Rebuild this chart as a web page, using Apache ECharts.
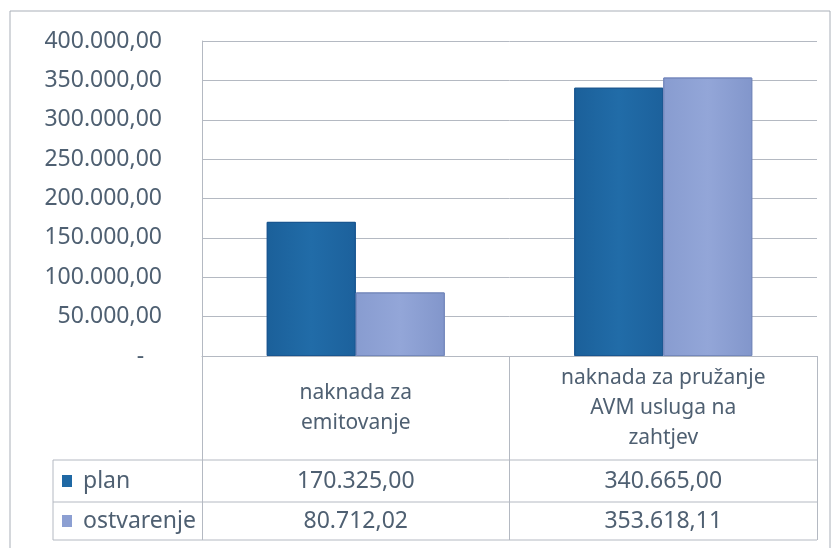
<!DOCTYPE html>
<html>
<head>
<meta charset="utf-8">
<script src="https://cdn.jsdelivr.net/npm/echarts@6/dist/echarts.min.js"></script>
<style>
  html, body { margin: 0; padding: 0; background: #fff; }
  #main { width: 832px; height: 548px; }
</style>
</head>
<body>
<div id="main"></div>
<script>
// podaci
var categories = ['naknada za\nemitovanje', 'naknada za pružanje\nAVM usluga na\nzahtjev'];
var seriesNames = ['plan', 'ostvarenje'];
var planValues = [170325.00, 340665.00];
var ostvarenjeValues = [80712.02, 353618.11];
var yTicks = [0, 50000, 100000, 150000, 200000, 250000, 300000, 350000, 400000];

var colors = ['#1f68a4', '#8c9fd2'];
var textColor = '#4f6072';
var lineColor = '#b4b9c2';

// 1234.5 -> "1.234,50"
function fmt(v) {
    if (v === 0) return '-   ';
    var parts = v.toFixed(2).split('.');
    var intPart = parts[0].replace(/\B(?=(\d{3})+(?!\d))/g, '.');
    return intPart + ',' + parts[1];
}

var chart = echarts.init(document.getElementById('main'));

var gridLeft = 202, gridRight = 15, gridTop = 41, gridBottom = 192;
var tableLeft = 53;

var option = {
    animation: false,
    textStyle: { fontFamily: 'Noto Sans' },
    grid: { left: gridLeft, right: gridRight, top: gridTop, bottom: gridBottom, containLabel: false },
    xAxis: {
        type: 'category',
        data: categories,
        axisLine: { show: true, lineStyle: { color: lineColor, width: 1 } },
        axisTick: { show: true, interval: 0, length: 184, lineStyle: { color: lineColor } },
        axisLabel: {
            interval: 0,
            margin: 52,
            verticalAlign: 'middle',
            lineHeight: 30,
            fontSize: 21,
            color: textColor,
            fontFamily: 'Noto Sans'
        }
    },
    yAxis: {
        type: 'value',
        min: yTicks[0],
        max: yTicks[yTicks.length - 1],
        interval: 50000,
        axisLine: { show: true, lineStyle: { color: lineColor } },
        axisTick: { show: false },
        splitLine: { lineStyle: { color: lineColor, width: 1 } },
        axisLabel: {
            margin: 40,
            fontSize: 23,
            color: textColor,
            fontFamily: 'Noto Sans',
            formatter: fmt
        }
    },
    series: [
        {
            name: seriesNames[0],
            type: 'bar',
            data: planValues,
            barWidth: 89,
            barGap: '0%',
            itemStyle: {
                color: new echarts.graphic.LinearGradient(0, 0, 1, 0, [
                    { offset: 0, color: '#1b609a' },
                    { offset: 0.5, color: '#216ca8' },
                    { offset: 1, color: '#1c619c' }
                ]),
                borderColor: '#195690',
                borderWidth: 1
            }
        },
        {
            name: seriesNames[1],
            type: 'bar',
            data: ostvarenjeValues,
            barWidth: 89,
            itemStyle: {
                color: new echarts.graphic.LinearGradient(0, 0, 1, 0, [
                    { offset: 0, color: '#889cd0' },
                    { offset: 0.5, color: '#93a6d8' },
                    { offset: 1, color: '#8296cb' }
                ]),
                borderColor: '#7488bc',
                borderWidth: 1
            }
        }
    ]
};
chart.setOption(option);

// tablica s podacima ispod grafikona
function drawTable() {
    var plotRight = 832 - gridRight;
    var axisY = 548 - gridBottom;
    var rowTops = [axisY + 104, axisY + 146, axisY + 184];
    var rows = [planValues, ostvarenjeValues];
    var els = [];

    // okvir
    els.push({ type: 'rect', shape: { x: 10, y: 11, width: 820, height: 545 },
        style: { fill: null, stroke: '#a9afb8', lineWidth: 1 }, silent: true });

    rowTops.forEach(function (y) {
        els.push({ type: 'line', shape: { x1: tableLeft, y1: y, x2: plotRight, y2: y },
            style: { stroke: lineColor, lineWidth: 1 }, silent: true });
    });
    els.push({ type: 'line', shape: { x1: tableLeft, y1: rowTops[0], x2: tableLeft, y2: rowTops[2] },
        style: { stroke: lineColor, lineWidth: 1 }, silent: true });

    rows.forEach(function (vals, r) {
        var cy = (rowTops[r] + rowTops[r + 1]) / 2;
        els.push({ type: 'rect', shape: { x: tableLeft + 9, y: cy - 6, width: 10, height: 12 },
            style: { fill: colors[r] }, silent: true });
        els.push({ type: 'text', x: tableLeft + 30, y: cy,
            style: { text: seriesNames[r], fontSize: 23, fontFamily: 'Noto Sans', fill: textColor,
                verticalAlign: 'middle', align: 'left' }, silent: true });
        vals.forEach(function (v, i) {
            var cx = chart.convertToPixel({ xAxisIndex: 0 }, i);
            els.push({ type: 'text', x: cx, y: cy,
                style: { text: fmt(v), fontSize: 23, fontFamily: 'Noto Sans', fill: textColor,
                    verticalAlign: 'middle', align: 'center' }, silent: true });
        });
    });
    chart.setOption({ graphic: els });
}
drawTable();
</script>
</body>
</html>
